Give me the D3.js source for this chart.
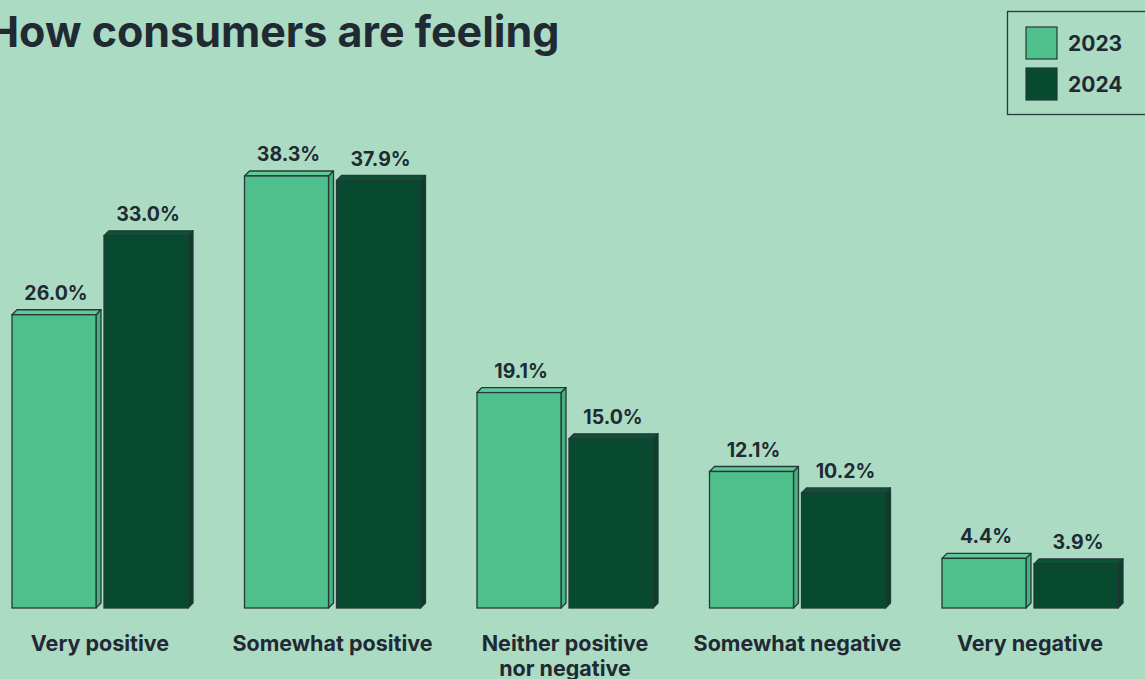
<!DOCTYPE html>
<html>
<head>
<meta charset="utf-8">
<script src="https://cdn.jsdelivr.net/npm/d3@7"></script>
<style>
  html, body { margin: 0; padding: 0; background: #acdbc4; overflow: hidden; }
  svg { display: block; font-family: Inter, "Open Sans", sans-serif; }
</style>
</head>
<body>
<svg id="chart" width="1145" height="679"></svg>
<script>
// Survey results: share of consumers by sentiment
const categories = ["Very positive", "Somewhat positive", "Neither positive\nnor negative", "Somewhat negative", "Very negative"];
const years = ["2023", "2024"];
const values2023 = [26.0, 38.3, 19.1, 12.1, 4.4];
const values2024 = [33.0, 37.9, 15.0, 10.2, 3.9];

const seriesValues = { "2023": values2023, "2024": values2024 };
const colors = { "2023": "#4fbf8b", "2024": "#084a30" };
const topColors = { "2023": "#5fc998", "2024": "#0b5236" };
const sideColors = { "2023": "#47b07f", "2024": "#073f29" };
const edge = "#24393a";
const textColor = "#1f2a33";

const svg = d3.select("#chart");

const x = d3.scaleBand().domain(categories).range([12, 1118]).paddingInner(0.243).paddingOuter(0);
const xInner = d3.scaleBand().domain(years).range([0, 176]).paddingInner(0.087);
const y = d3.scaleLinear().domain([0, 38.3]).range([608, 176]);
const depth = 5;

// Title
svg.append("text")
  .attr("x", -13).attr("y", 47)
  .attr("fill", textColor)
  .attr("font-size", 43).attr("font-weight", 700)
  .text("How consumers are feeling");

// Bars
const rows = [];
categories.forEach((c, i) => years.forEach(yr => rows.push({ cat: c, year: yr, value: seriesValues[yr][i] })));

const bars = svg.append("g").selectAll("g.bar").data(rows).join("g").attr("class", "bar");

bars.each(function(d) {
  const g = d3.select(this);
  const x0 = x(d.cat) + xInner(d.year);
  const w = xInner.bandwidth();
  const y0 = y(d.value);
  const y1 = y(0);
  // side face
  g.append("path")
    .attr("d", `M${x0 + w},${y0} L${x0 + w + depth},${y0 - depth} L${x0 + w + depth},${y1 - depth} L${x0 + w},${y1} Z`)
    .attr("fill", sideColors[d.year]).attr("stroke", edge).attr("stroke-width", 1.3).attr("stroke-linejoin", "round");
  // top face
  g.append("path")
    .attr("d", `M${x0},${y0} L${x0 + depth},${y0 - depth} L${x0 + w + depth},${y0 - depth} L${x0 + w},${y0} Z`)
    .attr("fill", topColors[d.year]).attr("stroke", edge).attr("stroke-width", 1.3).attr("stroke-linejoin", "round");
  // front face
  g.append("rect")
    .attr("x", x0).attr("y", y0).attr("width", w).attr("height", y1 - y0)
    .attr("fill", colors[d.year]).attr("stroke", edge).attr("stroke-width", 1.3);
  // value label
  g.append("text")
    .attr("x", x0 + w / 2 + 2).attr("y", y0 - depth - 10)
    .attr("text-anchor", "middle")
    .attr("fill", textColor)
    .attr("font-size", 19.5).attr("font-weight", 700)
    .text(d.value.toFixed(1) + "%");
});

// Category labels
const catLabels = svg.append("g").selectAll("text").data(categories).join("text")
  .attr("x", d => x(d) + x.bandwidth() / 2)
  .attr("y", 651)
  .attr("text-anchor", "middle")
  .attr("fill", textColor)
  .attr("font-size", 21.5).attr("font-weight", 700);
catLabels.each(function(d) {
  const t = d3.select(this);
  d.split("\n").forEach((line, i) => {
    t.append("tspan").attr("x", x(d) + x.bandwidth() / 2).attr("dy", i === 0 ? 0 : 25).text(line);
  });
});

// Legend
const legend = svg.append("g");
legend.append("rect")
  .attr("x", 1007.5).attr("y", 11.5).attr("width", 150).attr("height", 103)
  .attr("fill", "none").attr("stroke", edge).attr("stroke-width", 1.3);
years.forEach((yr, i) => {
  legend.append("rect")
    .attr("x", 1026).attr("y", 27 + i * 41).attr("width", 31).attr("height", 32)
    .attr("fill", colors[yr]).attr("stroke", edge).attr("stroke-width", 1.2);
  legend.append("text")
    .attr("x", 1068).attr("y", 51 + i * 41)
    .attr("fill", textColor)
    .attr("font-size", 21).attr("font-weight", 700)
    .text(yr);
});
</script>
</body>
</html>
